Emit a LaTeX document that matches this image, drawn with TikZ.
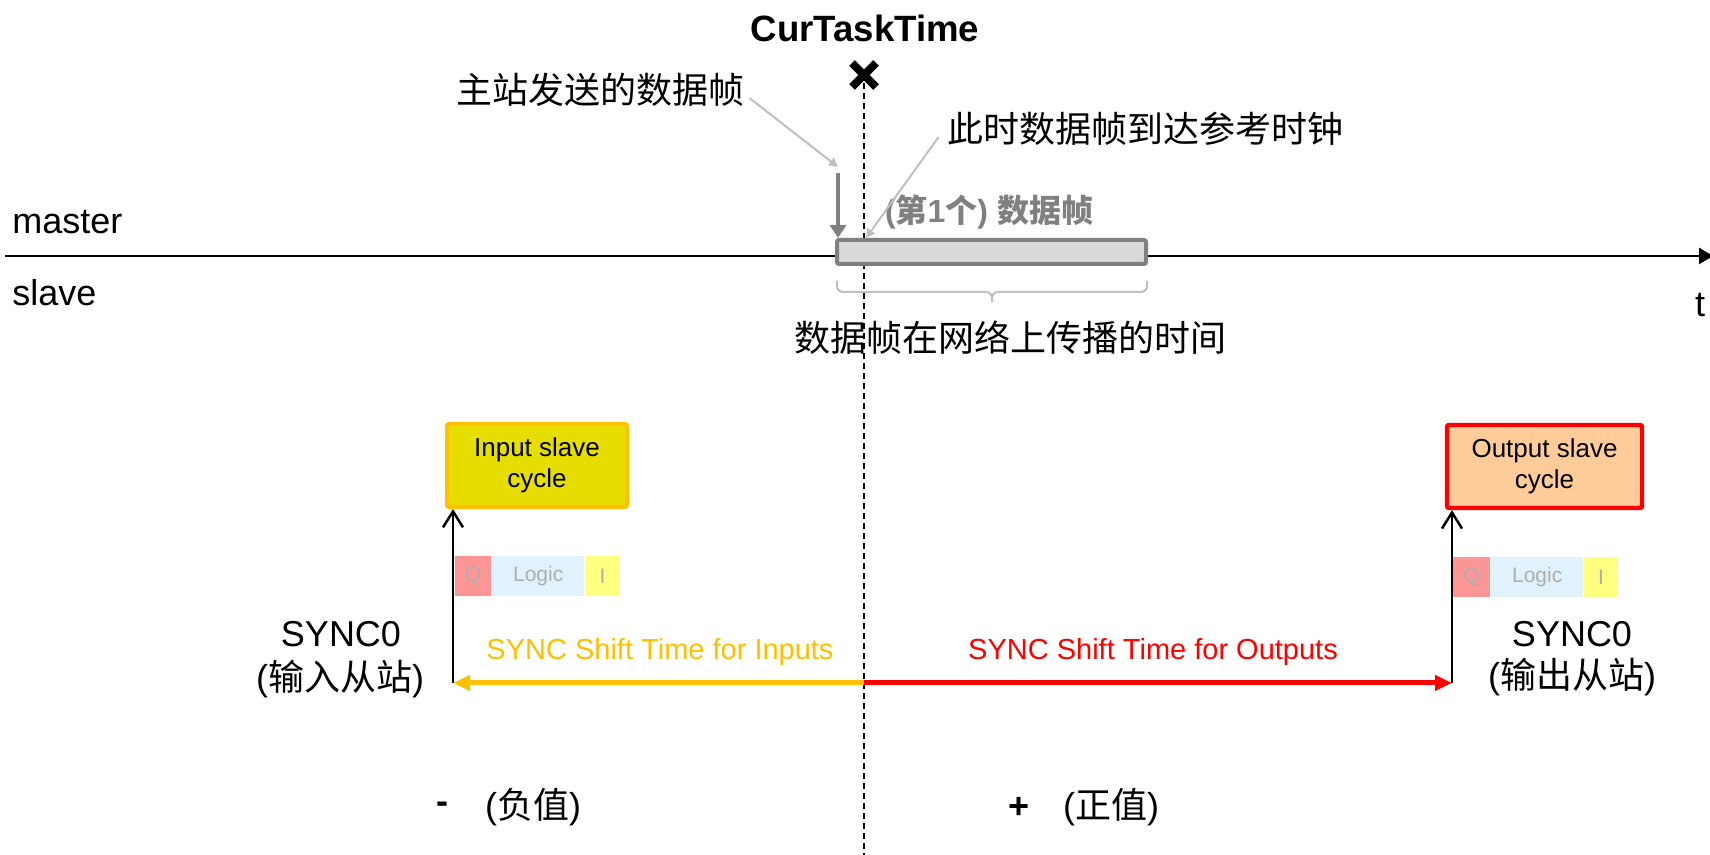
\documentclass[tikz,border=0pt]{standalone}
\usepackage{fontspec}
\setmainfont{Liberation Sans}
\newfontfamily\cjk{Noto Sans CJK SC}
\newcommand\zh[1]{{\cjk #1}}
\usetikzlibrary{arrows.meta,calc}

\definecolor{framegray}{HTML}{808080}
\definecolor{framefill}{HTML}{D9D9D9}
\definecolor{leadgray}{HTML}{BFBFBF}
\definecolor{inyellow}{HTML}{FFC000}
\definecolor{infill}{HTML}{E6DE00}
\definecolor{outred}{HTML}{FF0000}
\definecolor{outfill}{HTML}{FFCC99}
\definecolor{qfill}{HTML}{FF9696}
\definecolor{logicfill}{HTML}{E2F2FD}
\definecolor{ifill}{HTML}{FFFF80}
\definecolor{celltext}{HTML}{AEAEAE}

\begin{document}
\begin{tikzpicture}[x=0.5pt,y=-0.5pt,
  big/.style={font=\fontsize{18}{21}\selectfont, inner sep=0pt},
  cycbox/.style={draw, line width=2pt, rounded corners=1pt, minimum height=41.5pt,
    align=center, inner sep=0pt, font=\fontsize{13}{15.5}\selectfont},
  cell/.style={minimum height=20pt, inner sep=0pt, text=celltext,
    font=\fontsize{10.5}{12}\selectfont, anchor=west},
  lead/.style={leadgray, line width=1pt, -{Triangle[length=4.5pt,width=4.5pt]}},
  sync/.style={line width=1.25pt, -{Straight Barb[length=8pt,width=10pt]}},
  shiftarrow/.style={line width=2.5pt, -{Triangle[length=8.5pt,width=7.5pt]}},
  shiftlbl/.style={font=\fontsize{14.5}{17}\selectfont, inner sep=0pt, anchor=base},
  bracestyle/.style={leadgray, line width=1pt, rounded corners=3pt},
]
\useasboundingbox (0,0) rectangle (1710,855);

% time axis
\coordinate (axstart) at (5,256);
\coordinate (axend) at (1713,256);
\draw[line width=1.4pt, -{Triangle[length=7pt,width=8pt]}] (axstart) -- (axend);
\node[big, anchor=base west] (master) at (12,234) {master};
\node[big, anchor=base west] (slave) at (12,306) {slave};
\node[big, anchor=base] (tlbl) at (1700,317) {t};

% current task time marker
\coordinate (ctt) at (864,75);
\coordinate (ctttop) at (864,83);
\coordinate (cttbot) at (864,855);
\draw[line width=1pt, dash pattern=on 3pt off 2pt] (ctttop) -- (cttbot);
\draw[line width=4pt] ($(ctt)+(-12,-12)$) -- ($(ctt)+(12,12)$)
                      ($(ctt)+(-12,12)$) -- ($(ctt)+(12,-12)$);
\node[big, font=\fontsize{18.3}{21}\selectfont\bfseries] (cttlbl) at (865,28) {CurTaskTime};

% frame on the wire
\node[draw=framegray, fill=framefill, line width=2pt, rounded corners=1pt,
      minimum width=154.5pt, minimum height=12pt, inner sep=0pt] (frame) at (991.5,252) {};
\node[inner sep=0pt, text=framegray, font=\fontsize{16}{18}\selectfont\bfseries]
  (framelbl) at (989,212) {(\zh{第}1\zh{个}) \zh{数据帧}};

% frame sent by the master
\node[big] (sendlbl) at (600,90) {\zh{主站发送的数据帧}};
\coordinate (sendpt) at (838,173);
\draw[lead] ([xshift=2.5pt,yshift=-4pt]sendlbl.east) -- ([yshift=3pt]sendpt);
\draw[framegray, line width=2pt, -{Triangle[length=6.5pt,width=8pt]}]
  (sendpt) -- (sendpt |- frame.north);

% arrival at the reference clock
\node[big] (arrlbl) at (1145,129) {\zh{此时数据帧到达参考时钟}};
\draw[lead] ([xshift=-4pt,yshift=-4pt]arrlbl.west) -- ([xshift=1pt]ctttop |- frame.north);

% propagation time brace
\coordinate (bl) at (837,281);
\coordinate (br) at (1147,281);
\coordinate (bm) at (992,292);
\coordinate (btip) at (992,302);
\draw[bracestyle] (bl) |- (bm) -- (btip);
\draw[bracestyle] (br) |- (bm) -- (btip);
\node[big] (proplbl) at (1010,338) {\zh{数据帧在网络上传播的时间}};

% input slave
\node[cycbox, draw=inyellow, fill=infill, minimum width=90pt] (inbox) at (537,465.5)
  {Input slave\\cycle};
\coordinate (syncin) at (453,683);
\draw[sync] (syncin) -- (syncin |- inbox.south);
\node[cell, fill=qfill, minimum width=18pt] (qin) at (455,576) {Q};
\node[cell, fill=logicfill, minimum width=46pt] (logicin) at (qin.east) {Logic};
\node[cell, fill=ifill, minimum width=17.5pt] (iin) at (logicin.east) {I};
\node[big, anchor=base] (syncinlbl) at (341,647) {SYNC0};
\node[big, anchor=base] (syncinzh) at (340,690) {(\zh{输入从站})};

% output slave
\node[cycbox, draw=outred, line width=2.2pt, fill=outfill, minimum width=97.5pt] (outbox)
  at (1544.5,466.5) {Output slave\\cycle};
\coordinate (syncout) at (1452,683);
\draw[sync] (syncout) -- (syncout |- outbox.south);
\node[cell, fill=qfill, minimum width=18.5pt] (qout) at (1453,577) {Q};
\node[cell, fill=logicfill, minimum width=46pt] (logicout) at (qout.east) {Logic};
\node[cell, fill=ifill, minimum width=17pt] (iout) at (logicout.east) {I};
\node[big, anchor=base] (syncoutlbl) at (1572,647) {SYNC0};
\node[big, anchor=base] (syncoutzh) at (1572,689) {(\zh{输出从站})};

% shift times
\coordinate (shift0) at (864,683);
\draw[shiftarrow, inyellow] (shift0) -- (syncin);
\draw[shiftarrow, outred] (shift0) -- (syncout);
\node[shiftlbl, text=inyellow] (inlbl) at (660,660) {SYNC Shift Time for Inputs};
\node[shiftlbl, text=outred] (outlbl) at (1153,660) {SYNC Shift Time for Outputs};

% signs
\node[big, font=\fontsize{18}{21}\selectfont\bfseries] (minus) at (442,808) {-};
\node[big] (neglbl) at (533,807) {(\zh{负值})};
\node[big, font=\fontsize{18}{21}\selectfont\bfseries] (plus) at (1019,808) {+};
\node[big] (poslbl) at (1111,807) {(\zh{正值})};
\end{tikzpicture}
\end{document}
